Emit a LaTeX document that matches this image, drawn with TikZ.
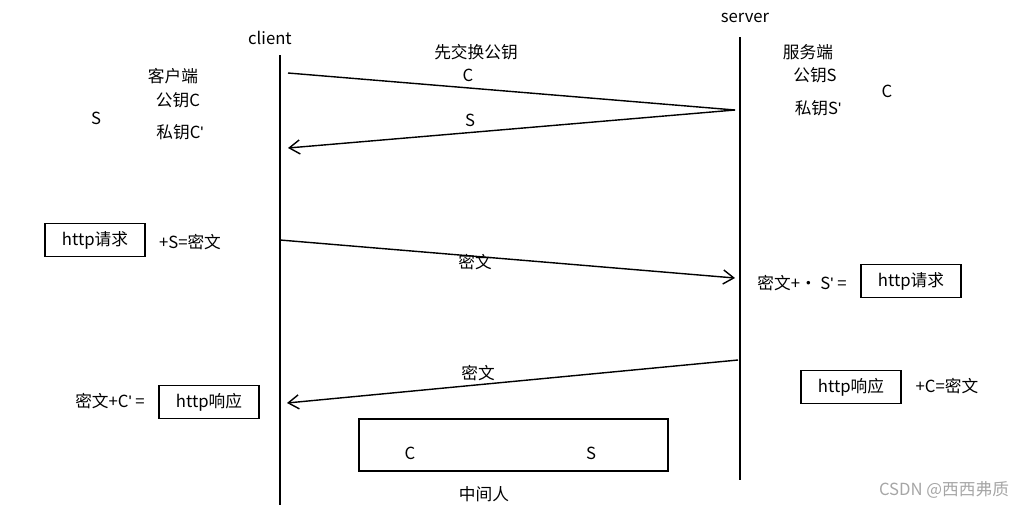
\documentclass[tikz,border=0pt]{standalone}
\usepackage{fontspec}
\setmainfont{Noto Sans CJK SC}
\newfontfamily\apofont{Liberation Sans}
\newcommand{\apo}{{\apofont'}}
\usetikzlibrary{arrows.meta}
\tikzset{
	txt/.style={font=\fontsize{9.5pt}{11pt}\selectfont, inner sep=1pt},
	msgbox/.style={draw, thick, minimum width=100\pxu, minimum height=33\pxu, font=\fontsize{9.5pt}{11pt}\selectfont},
	msg/.style={thick, -{Straight Barb[length=6pt,width=8pt]}},
}
\newlength{\pxu}
\setlength{\pxu}{0.02cm}
\begin{document}
\begin{tikzpicture}[x=0.02cm, y=-0.02cm]
	\useasboundingbox (0,0) rectangle (1024,508);
	% lifelines
	\node[txt] (cl) at (270,38) {client};
	\node[txt] (sv) at (745,18) {server};
	\coordinate (cltop) at (280,55);
	\coordinate (clbot) at (280,505);
	\coordinate (svtop) at (740,37);
	\coordinate (svbot) at (740,480);
	\draw[thick] (cltop)--(clbot);
	\draw[thick] (svtop)--(svbot);
	% key exchange
	\node[txt] (ex) at (476,52) {先交换公钥};
	\node[txt] (exC) at (468,75) {C};
	\node[txt] (exS) at (470,120) {S};
	\coordinate (a1) at (288,73);
	\coordinate (a2) at (735,110);
	\coordinate (a3) at (288,148);
	\draw[thick] (a1)--(a2);
	\draw[msg] (a2)--(a3);
	\node[txt] (ck) at (173,76) {客户端};
	\node[txt] (cpub) at (178,100) {公钥C};
	\node[txt] (cpri) at (180,132) {私钥C\apo};
	\node[txt] (cS) at (96,118) {S};
	\node[txt] (sk) at (808,52) {服务端};
	\node[txt] (spub) at (815,75) {公钥S};
	\node[txt] (spri) at (818,108) {私钥S\apo};
	\node[txt] (sC) at (887,91) {C};
	% request
	\node[msgbox] (req1) at (95,240) {http请求};
	\node[txt] (enc1) at (190,242) {+S=密文};
	\coordinate (b1) at (280,240);
	\coordinate (b2) at (735,278);
	\draw[msg] (b1)--(b2);
	\node[txt] (m1) at (475,262) {密文};
	\node[txt] (dec1) at (802,283) {密文+· S\apo\ =};
	\node[msgbox] (req2) at (911,281) {http请求};
	% response
	\coordinate (c1) at (738,360);
	\coordinate (c2) at (287,403);
	\draw[msg] (c1)--(c2);
	\node[txt] (m2) at (478,373) {密文};
	\node[txt] (dec2) at (110,401) {密文+C\apo\ =};
	\node[msgbox] (resp1) at (209,402) {http响应};
	\node[msgbox] (resp2) at (851,387) {http响应};
	\node[txt] (enc2) at (947,386) {+C=密文};
	% man in the middle
	\node[draw, thick, minimum width=309\pxu, minimum height=52\pxu] (mitm) at (513.5,445) {};
	\node[txt] (mC) at (410,453) {C};
	\node[txt] (mS) at (591,453) {S};
	\node[txt] (mlab) at (484,494) {中间人};
	\node[txt, text=gray!70] (wm) at (944,490) {CSDN @西西弗质};
\end{tikzpicture}
\end{document}
